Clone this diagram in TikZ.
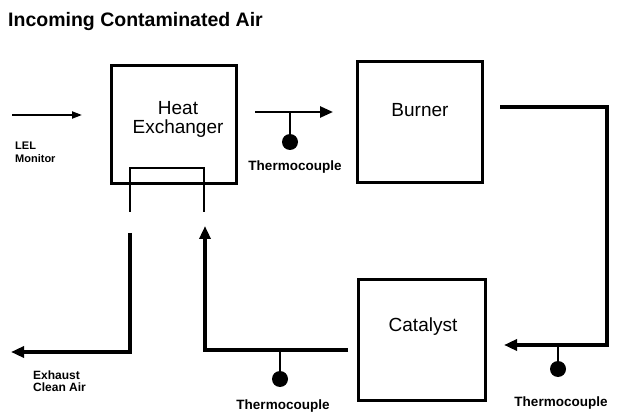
\documentclass[tikz,border=0pt]{standalone}
\usepackage{fontspec}
\setmainfont{Liberation Sans}
\usetikzlibrary{arrows.meta, positioning}

\begin{document}
\begin{tikzpicture}[x=1pt, y=-1pt,
        unit/.style={draw, line width=3pt, minimum width=125pt, minimum height=118pt,
            align=center, font=\fontsize{19}{19}\selectfont},
        flow/.style={line width=3.4pt},
        pipe/.style={line width=2.6pt},
        probe/.style={circle, fill, inner sep=0pt, minimum size=16pt},
        tag/.style={font=\fontsize{13.5}{13}\selectfont\bfseries, align=left, inner sep=0pt},
        tip/.style={-{Triangle[length=13pt, width=11pt]}}]

        \useasboundingbox (0,0) rectangle (619,414);

        % Nodes
        \node[anchor=west, inner sep=0pt, font=\fontsize{19.5}{19.5}\selectfont\bfseries] (title) at (8,22) {Incoming Contaminated Air};
        \node[unit] (hx) at (174,124.5) {};
        \node[font=\fontsize{19}{19}\selectfont, align=center] (hxtext) at (178,119) {Heat\\Exchanger};
        \node[unit, minimum height=121pt] (burner) at (420,122.5) {};
        \node[font=\fontsize{19}{19}\selectfont] (burnertext) at (420,110) {Burner};
        \node[unit, minimum width=127pt, minimum height=120pt] (cat) at (421.5,340) {};
        \node[font=\fontsize{19}{19}\selectfont] (cattext) at (423,327) {Catalyst};

        \node[tag, anchor=west, font=\fontsize{11}{13}\selectfont\bfseries] (lel) at (15,152) {LEL\\Monitor};
        \node[tag, anchor=west, font=\fontsize{12}{12.5}\selectfont\bfseries] (exhaust) at (33,381) {Exhaust\\Clean Air};

        \node[probe] (tc1) at (290,142) {};
        \node[probe] (tc2) at (280,379) {};
        \node[probe] (tc3) at (558,369) {};
        \node[tag] (tc1lbl) at (295,167.5) {Thermocouple};
        \node[tag] (tc2lbl) at (283,406) {Thermocouple};
        \node[tag] (tc3lbl) at (561,403.5) {Thermocouple};

        % Coordinates
        \coordinate (in0) at (12,115);
        \coordinate (in1) at (82,115);
        \coordinate (a0) at (255,112);
        \coordinate (a1) at (333,112);
        \coordinate (b0) at (500,107);
        \coordinate (b1) at (607,107);
        \coordinate (b2) at (607,345);
        \coordinate (b3) at (504,345);
        \coordinate (c0) at (348,350);
        \coordinate (c1) at (205,350);
        \coordinate (c2) at (205,226);
        \coordinate (e0) at (130,233);
        \coordinate (e1) at (130,352);
        \coordinate (e2) at (11,352);
        \coordinate (u0) at (130,212);
        \coordinate (u1) at (130,168);
        \coordinate (u2) at (204,168);
        \coordinate (u3) at (204,212);

        % Flows
        \draw[line width=2pt, -{Triangle[length=10pt, width=7pt]}] (in0) -- (in1);
        \draw[pipe] (u0) -- (u1) -- (u2) -- (u3);
        \draw[pipe, tip] (a0) -- (a1);
        \draw[flow, tip] (b0) -- (b1) -- (b2) -- (b3);
        \draw[flow, tip] (c0) -- (c1) -- (c2);
        \draw[flow, tip] (e0) -- (e1) -- (e2);

        % Probes
        \draw[pipe] (tc1 |- a0) -- (tc1);
        \draw[pipe] (tc2 |- c0) -- (tc2);
        \draw[pipe] (tc3 |- b3) -- (tc3);
    \end{tikzpicture}
\end{document}
